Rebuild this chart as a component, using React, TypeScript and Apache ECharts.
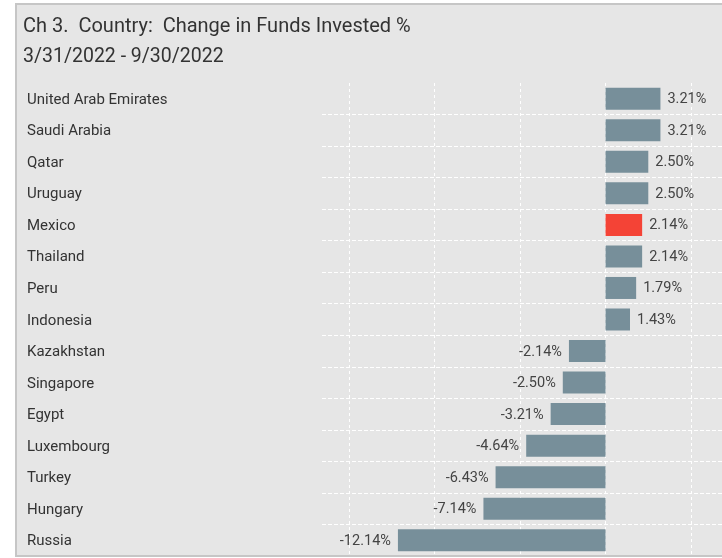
import React, { useEffect, useRef } from "react";
import * as echarts from "echarts";

const titleText = "Ch 3.  Country:  Change in Funds Invested %";
const subtitleText = "3/31/2022 - 9/30/2022";
const countries = [
  "United Arab Emirates",
  "Saudi Arabia",
  "Qatar",
  "Uruguay",
  "Mexico",
  "Thailand",
  "Peru",
  "Indonesia",
  "Kazakhstan",
  "Singapore",
  "Egypt",
  "Luxembourg",
  "Turkey",
  "Hungary",
  "Russia",
];
const changes = [3.21, 3.21, 2.5, 2.5, 2.14, 2.14, 1.79, 1.43, -2.14, -2.5, -3.21, -4.64, -6.43, -7.14, -12.14];
const highlighted = ["Mexico"];

const FONT = "Roboto, 'Noto Sans', sans-serif";
const BAR = "#778f9a";
const RED = "#f44336";

export default function App() {
  const ref = useRef<HTMLDivElement>(null);
  useEffect(() => {
    if (!ref.current) return;
    const chart = echarts.init(ref.current, null, { renderer: "svg" });
    chart.setOption({
      animation: false,
      graphic: [
        {
          type: "rect",
          z: -10,
          silent: true,
          shape: { x: 16, y: 4, width: 740, height: 552 },
          style: { fill: "#e6e6e6", stroke: "#c6c6c6", lineWidth: 2 },
        },
      ],
      title: {
        text: titleText,
        subtext: subtitleText,
        left: 18,
        top: 8,
        itemGap: 6,
        textStyle: { fontFamily: FONT, fontSize: 20, fontWeight: "normal", color: "#333", lineHeight: 24 },
        subtextStyle: { fontFamily: FONT, fontSize: 19.5, color: "#333", lineHeight: 24 },
      },
      grid: { left: 322, right: 0, top: 83, bottom: 2, containLabel: false },
      xAxis: {
        type: "value",
        min: -16.58,
        max: 6.81,
        splitNumber: 5,
        minInterval: 5,
        maxInterval: 5,
        axisLine: { show: false },
        axisTick: { show: false },
        axisLabel: { show: false },
        splitLine: {
          show: true,
          showMinLine: false,
          showMaxLine: false,
          lineStyle: { color: "#ffffff", width: 1, type: [3, 3] },
        },
      },
      yAxis: {
        type: "category",
        data: countries,
        inverse: true,
        axisLine: { show: false },
        axisTick: { show: false },
        axisLabel: {
          align: "left",
          margin: 295,
          fontFamily: FONT,
          fontSize: 15,
          color: "#333",
        },
        splitLine: {
          show: true,
          showMinLine: false,
          showMaxLine: false,
          lineStyle: { color: "#ffffff", width: 1, type: [4, 2] },
        },
      },
      series: [
        {
          type: "bar",
          barWidth: 22,
          data: changes.map((v, i) => ({
            value: v,
            itemStyle: { color: highlighted.includes(countries[i]) ? RED : BAR },
            label: { position: v >= 0 ? "right" : "left" },
          })),
          label: {
            show: true,
            distance: 7,
            fontFamily: FONT,
            fontSize: 14.5,
            color: "#444",
            formatter: (p: any) => p.value.toFixed(2) + "%",
          },
        },
      ],
    });
    return () => chart.dispose();
  }, []);
  return (
    <div
      ref={ref}
      style={{ position: "fixed", left: 0, top: 0, width: 722, height: 558 }}
    />
  );
}
